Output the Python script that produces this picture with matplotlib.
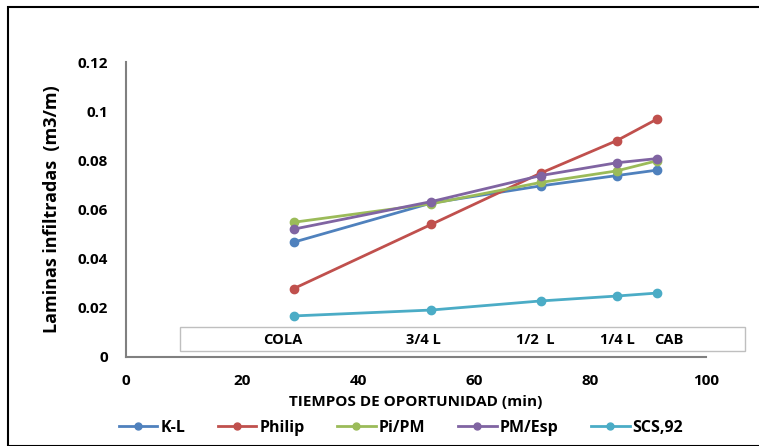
import matplotlib
matplotlib.use("Agg")
import matplotlib.pyplot as plt
from matplotlib.patches import Rectangle
from matplotlib.lines import Line2D

plt.rcParams['font.family'] = ['Open Sans', 'DejaVu Sans']

# Data
tiempos = [28.9, 52.6, 71.5, 84.6, 91.5]
series_names = ["K-L", "Philip", "Pi/PM", "PM/Esp", "SCS,92"]
kl = [0.0467, 0.0626, 0.0696, 0.0738, 0.0760]
philip = [0.0278, 0.0539, 0.0748, 0.0880, 0.0967]
pipm = [0.0548, 0.0623, 0.0710, 0.0757, 0.0798]
pmesp = [0.0520, 0.0632, 0.0738, 0.0790, 0.0807]
scs92 = [0.0167, 0.0191, 0.0228, 0.0248, 0.0260]
tramos = ["COLA", "3/4 L", "1/2  L", "1/4 L", "CAB"]
yticks = [0, 0.02, 0.04, 0.06, 0.08, 0.1, 0.12]
xticks = [0, 20, 40, 60, 80, 100]

colors = ["#4F81BD", "#C0504D", "#9BBB59", "#8064A2", "#4BACC6"]
W, H = 759, 446
fig = plt.figure(figsize=(W / 100, H / 100), dpi=100)

# outer frame
fig.patches.append(Rectangle((8 / W, 0), 1.2, 1 - 7 / H, transform=fig.transFigure,
                             fill=False, edgecolor="black", linewidth=1.5, zorder=0))

ax = fig.add_axes([126 / W, 1 - 357 / H, (706 - 126) / W, (357 - 62) / H])
ax.set_xlim(0, 100)
ax.set_ylim(0, 0.12)

for name, vals, c in zip(series_names, [kl, philip, pipm, pmesp, scs92], colors):
    ax.plot(tiempos, vals, color=c, linewidth=2, marker="o", markersize=6,
            label=name, zorder=3, clip_on=False)

for s in ["top", "right"]:
    ax.spines[s].set_visible(False)
for s in ["left", "bottom"]:
    ax.spines[s].set_color("#808080")
    ax.spines[s].set_linewidth(1.5)

ax.set_yticks(yticks)
ax.set_yticklabels(["%g" % v for v in yticks], fontsize=11, fontweight="bold")
ax.set_xticks(xticks)
ax.set_xticklabels([str(v) for v in xticks], fontsize=11, fontweight="bold")
ax.tick_params(axis="both", length=0)
ax.tick_params(axis="y", pad=13)
ax.tick_params(axis="x", pad=12)

ax.set_ylabel("Laminas infiltradas  (m3/m)", fontsize=13, fontweight="bold", labelpad=12)
ax.set_xlabel("TIEMPOS DE OPORTUNIDAD (min)", fontsize=11, fontweight="bold", labelpad=5)

# tramo box
fig.patches.append(Rectangle((180 / W, 1 - 351 / H), (745 - 180) / W, 24 / H,
                             transform=fig.transFigure, facecolor="white",
                             edgecolor="#BFBFBF", linewidth=1, zorder=1))
label_px = [283, 423, 535, 617, 669]
for t, px in zip(tramos, label_px):
    fig.text(px / W, 1 - 340 / H, t, ha="center", va="center", fontsize=10.5,
             fontweight="bold", zorder=2)

handles = [Line2D([], [], color=c, linewidth=2, marker="o", markersize=5) for c in colors]
leg = fig.legend(handles, series_names, loc="center", bbox_to_anchor=(401 / W, 1 - 428 / H),
                 ncol=5, frameon=False, handlelength=2.4, columnspacing=2.05,
                 handletextpad=0.2, prop={"weight": "bold", "size": 11.5})

fig.savefig("out.png", dpi=100)
